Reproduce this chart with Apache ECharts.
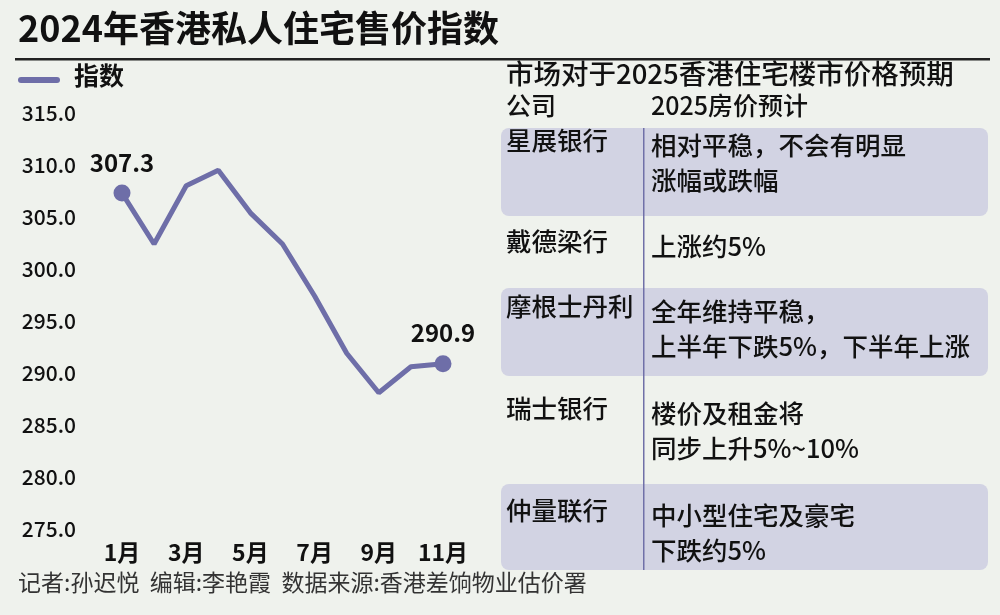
<!DOCTYPE html>
<html><head><meta charset="utf-8">
<script src="https://cdn.jsdelivr.net/npm/echarts@6/dist/echarts.min.js"></script>
<style>html,body{margin:0;padding:0;background:#eff2ed}#c{width:1000px;height:615px}</style>
</head><body><div id="c"></div>
<script>
const months = ['1月','2月','3月','4月','5月','6月','7月','8月','9月','10月','11月'];
const indexValues = [307.3,302.4,308.0,309.5,305.4,302.4,297.4,291.9,288.1,290.6,290.9];
const companies = ['星展银行','戴德梁行','摩根士丹利','瑞士银行','仲量联行'];
const forecasts = [['相对平稳，不会有明显','涨幅或跌幅'],['上涨约5%'],['全年维持平稳，','上半年下跌5%，下半年上涨'],['楼价及租金将','同步上升5%~10%'],['中小型住宅及豪宅','下跌约5%']];
const F = '"Noto Sans CJK SC", sans-serif';
const rowTops = [128,216,288,376,484];
const rowH = [88,72,88,108,86];
const textTops = [128,229,294,396,498];
const g = [];
g.push({type:'text',left:18,top:10,style:{text:'2024年香港私人住宅售价指数',font:'bold 36px '+F,fill:'#111'}});
g.push({type:'rect',shape:{x:15,y:58,width:975,height:2.5},style:{fill:'#222'}});
g.push({type:'rect',shape:{x:18,y:77,width:42,height:6,r:3},style:{fill:'#6e6ea8'}});
g.push({type:'text',left:74,top:63,style:{text:'指数',font:'bold 25px '+F,fill:'#111'}});
g.push({type:'text',left:506,top:60,style:{text:'市场对于2025香港住宅楼市价格预期',font:'500 27.5px '+F,fill:'#111'}});
g.push({type:'text',left:506,top:93,style:{text:'公司',font:'500 25px '+F,fill:'#111'}});
g.push({type:'text',left:651,top:93,style:{text:'2025房价预计',font:'500 25px '+F,fill:'#111'}});
[0,2,4].forEach(i=>g.push({type:'rect',shape:{x:501,y:rowTops[i],width:487,height:rowH[i],r:8},style:{fill:'#d2d3e3'}}));
g.push({type:'rect',shape:{x:643,y:128,width:1.5,height:442},style:{fill:'#7070a8'}});
companies.forEach((c,i)=>{
  const y = textTops[i];
  g.push({type:'text',left:506,top:y,style:{text:c,font:'500 25.5px '+F,fill:'#111'}});
  g.push({type:'text',left:651,top:y,style:{text:forecasts[i].join('\n'),font:'500 25.5px '+F,fill:'#111',lineHeight:35}});
});
g.push({type:'text',left:18,top:571,style:{text:'记者:孙迟悦  编辑:李艳霞  数据来源:香港差饷物业估价署',font:'23px '+F,fill:'#333'}});
const chart = echarts.init(document.getElementById('c'));
chart.setOption({
  backgroundColor:'#eff2ed',
  animation:false,
  grid:{left:122,right:557,top:113,bottom:86},
  xAxis:{type:'category',data:months,boundaryGap:false,axisLine:{show:false},axisTick:{show:false},
    axisLabel:{interval:1,margin:12,fontSize:23,fontWeight:'bold',color:'#111',fontFamily:F}},
  yAxis:{type:'value',min:275,max:315,interval:5,splitLine:{show:false},axisLine:{show:false},axisTick:{show:false},
    axisLabel:{formatter:v=>v.toFixed(1),fontSize:21,fontWeight:500,color:'#111',fontFamily:F,margin:46}},
  series:[{type:'line',data:indexValues,lineStyle:{color:'#6e6ea8',width:5},itemStyle:{color:'#6e6ea8'},
    symbol:'circle',symbolSize:(v,p)=>(p.dataIndex===0||p.dataIndex===10)?17:0,
    label:{show:true,position:'top',distance:10,fontSize:24,fontWeight:'bold',color:'#111',fontFamily:F,
      formatter:p=>(p.dataIndex===0||p.dataIndex===10)?p.value.toFixed(1):''}}],
  graphic:g
});
</script></body></html>
